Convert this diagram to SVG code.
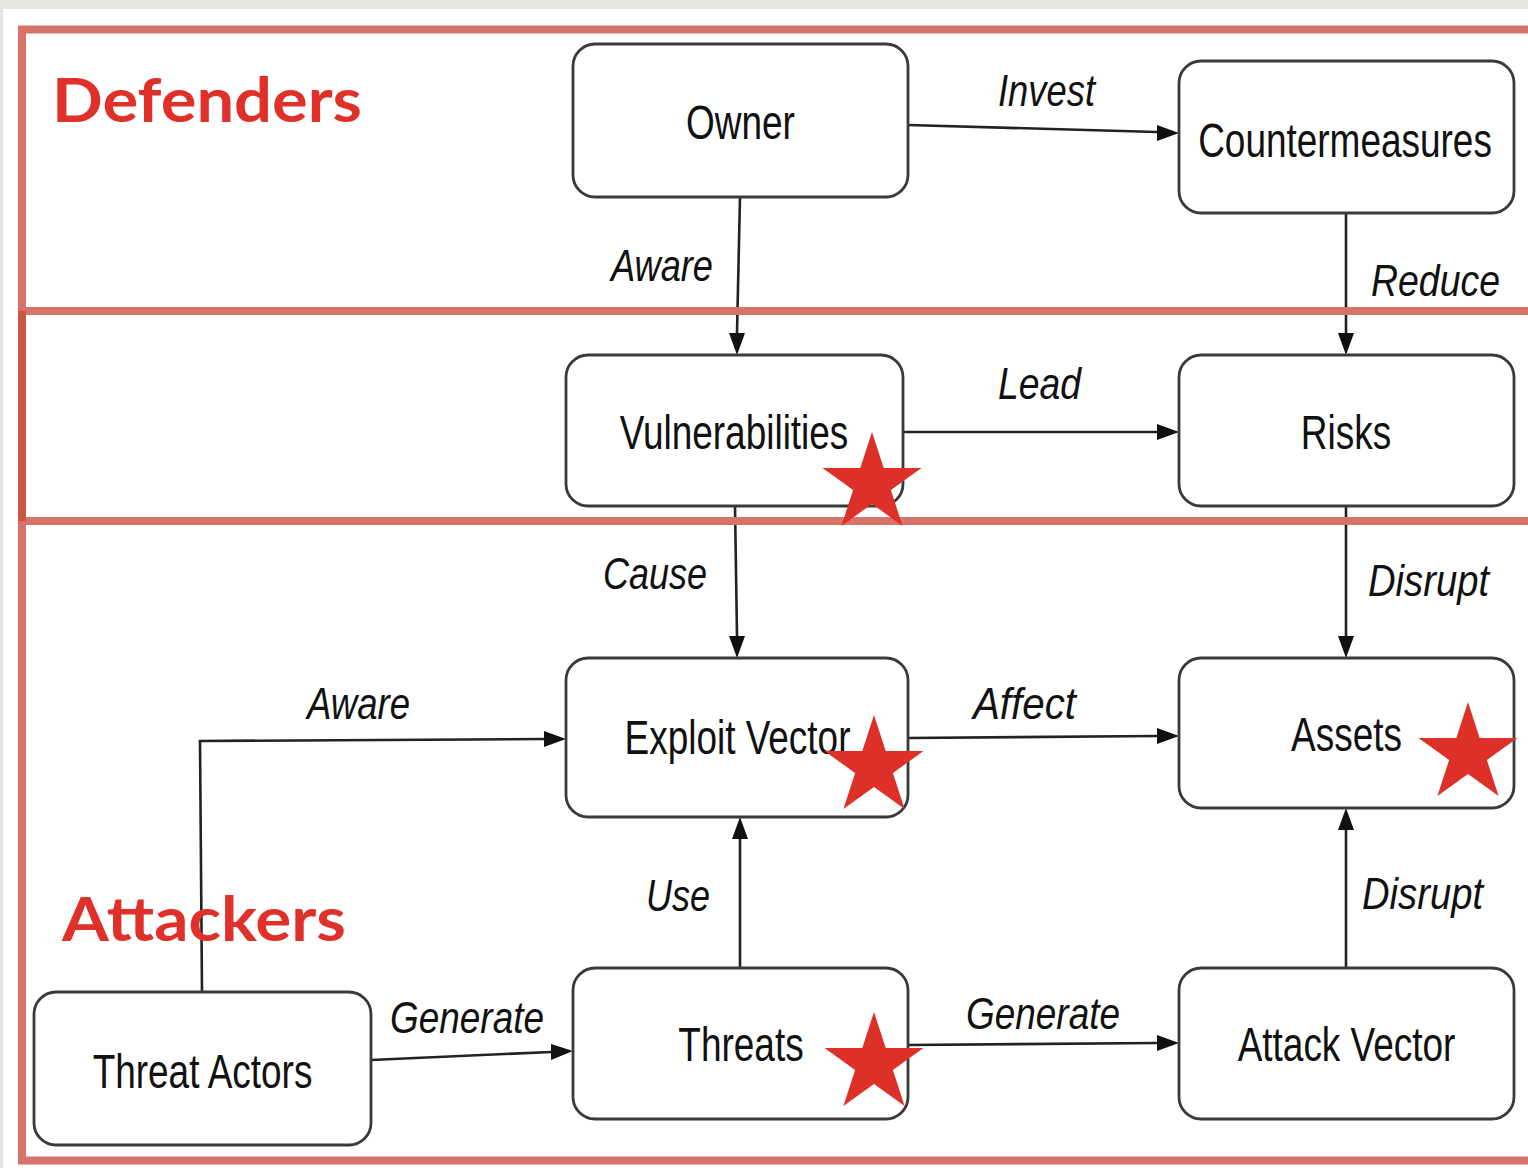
<svg xmlns="http://www.w3.org/2000/svg" width="1528" height="1168" viewBox="0 0 1528 1168">
<defs>
<style>
.node rect{fill:#fff;stroke:#3a3a3a;stroke-width:2.8}
.node text{font-family:"Liberation Sans",Arial,sans-serif;font-size:48px;fill:#111;text-anchor:middle}
.lbl{font-family:"Liberation Sans",Arial,sans-serif;font-size:44px;font-style:italic;fill:#111}
.conn{fill:none;stroke:#222;stroke-width:2.6}
.frame{fill:none;stroke:#d6736a;stroke-width:8}
.title{font-family:Lato,"Noto Sans",sans-serif;font-size:62px;font-weight:bold;fill:#e0302a}
.star{fill:#dd3028}
</style>
</defs>
<rect x="0" y="0" width="1528" height="1168" fill="#e6e5e2"/>
<rect x="3" y="9" width="1525" height="1159" fill="#ffffff"/>

<g id="connectors">
<line class="conn" x1="908" y1="125" x2="1157" y2="132"/>
<path d="M1157,125 L1179,133 L1157,141 z" fill="#111"/>
<line class="conn" x1="740" y1="197" x2="737" y2="333"/>
<path d="M729,333 L737,355 L745,333 z" fill="#111"/>
<line class="conn" x1="1346" y1="213" x2="1346" y2="333"/>
<path d="M1338,333 L1346,355 L1354,333 z" fill="#111"/>
<line class="conn" x1="903" y1="432" x2="1157" y2="432"/>
<path d="M1157,424 L1179,432 L1157,440 z" fill="#111"/>
<line class="conn" x1="735" y1="506" x2="737" y2="636"/>
<path d="M729,636 L737,658 L745,636 z" fill="#111"/>
<line class="conn" x1="1346" y1="506" x2="1346" y2="636"/>
<path d="M1338,636 L1346,658 L1354,636 z" fill="#111"/>
<polyline class="conn" points="202,992 200,741 544,739"/>
<path d="M544,731 L566,739 L544,747 z" fill="#111"/>
<line class="conn" x1="908" y1="738" x2="1157" y2="736"/>
<path d="M1157,728 L1179,736 L1157,744 z" fill="#111"/>
<line class="conn" x1="740" y1="968" x2="740" y2="839"/>
<path d="M732,839 L740,817 L748,839 z" fill="#111"/>
<line class="conn" x1="1346" y1="968" x2="1346" y2="830"/>
<path d="M1338,830 L1346,808 L1354,830 z" fill="#111"/>
<line class="conn" x1="371" y1="1060" x2="551" y2="1052"/>
<path d="M551,1044 L573,1051 L551,1060 z" fill="#111"/>
<line class="conn" x1="908" y1="1045" x2="1157" y2="1043"/>
<path d="M1157,1035 L1179,1043 L1157,1051 z" fill="#111"/>
</g>

<g id="node-owner" class="node"><rect x="573" y="44" width="335" height="153" rx="22"/><text transform="translate(740.5,139) scale(0.77,1)">Owner</text></g>
<g id="node-countermeasures" class="node"><rect x="1179" y="61" width="335" height="152" rx="22"/><text transform="translate(1345,157) scale(0.77,1)">Countermeasures</text></g>
<g id="node-vulnerabilities" class="node"><rect x="566" y="355" width="337" height="151" rx="22"/><text transform="translate(734,449) scale(0.77,1)">Vulnerabilities</text></g>
<g id="node-risks" class="node"><rect x="1179" y="355" width="335" height="151" rx="22"/><text transform="translate(1346,449) scale(0.77,1)">Risks</text></g>
<g id="node-exploit-vector" class="node"><rect x="566" y="658" width="342" height="159" rx="22"/><text transform="translate(737.5,754) scale(0.77,1)">Exploit Vector</text></g>
<g id="node-assets" class="node"><rect x="1179" y="658" width="335" height="150" rx="22"/><text transform="translate(1346.5,751) scale(0.77,1)">Assets</text></g>
<g id="node-threat-actors" class="node"><rect x="34" y="992" width="337" height="153" rx="22"/><text transform="translate(202.5,1088) scale(0.77,1)">Threat Actors</text></g>
<g id="node-threats" class="node"><rect x="573" y="968" width="335" height="151" rx="22"/><text transform="translate(741,1061) scale(0.77,1)">Threats</text></g>
<g id="node-attack-vector" class="node"><rect x="1179" y="968" width="335" height="151" rx="22"/><text transform="translate(1346.5,1061) scale(0.77,1)">Attack Vector</text></g>

<g id="edge-labels">
<text class="lbl" x="998" y="106" textLength="97" lengthAdjust="spacingAndGlyphs">Invest</text>
<text class="lbl" x="611" y="281" textLength="102" lengthAdjust="spacingAndGlyphs">Aware</text>
<text class="lbl" x="1371" y="296" textLength="129" lengthAdjust="spacingAndGlyphs">Reduce</text>
<text class="lbl" x="998" y="399" textLength="83" lengthAdjust="spacingAndGlyphs">Lead</text>
<text class="lbl" x="603" y="589" textLength="104" lengthAdjust="spacingAndGlyphs">Cause</text>
<text class="lbl" x="1368" y="596" textLength="121" lengthAdjust="spacingAndGlyphs">Disrupt</text>
<text class="lbl" x="307" y="719" textLength="103" lengthAdjust="spacingAndGlyphs">Aware</text>
<text class="lbl" x="973" y="719" textLength="103" lengthAdjust="spacingAndGlyphs">Affect</text>
<text class="lbl" x="646" y="911" textLength="64" lengthAdjust="spacingAndGlyphs">Use</text>
<text class="lbl" x="1362" y="909" textLength="121" lengthAdjust="spacingAndGlyphs">Disrupt</text>
<text class="lbl" x="390" y="1033" textLength="154" lengthAdjust="spacingAndGlyphs">Generate</text>
<text class="lbl" x="966" y="1029" textLength="154" lengthAdjust="spacingAndGlyphs">Generate</text>
</g>

<g id="frames">
<rect class="frame" x="22" y="29.5" width="1520" height="1131"/>
<line class="frame" x1="18" y1="311" x2="1528" y2="311"/>
<line class="frame" x1="18" y1="521" x2="1528" y2="521"/>
<line x1="22" y1="311" x2="22" y2="521" stroke="#cd5546" stroke-width="8"/>
</g>

<g id="titles">
<text class="title" x="52" y="122" textLength="310" lengthAdjust="spacingAndGlyphs">Defenders</text>
<text class="title" x="62" y="941" textLength="284" lengthAdjust="spacingAndGlyphs">Attackers</text>
</g>

<g id="stars">
<polygon class="star" transform="translate(872,484)" points="0,-52 11.7,-16.1 49.5,-16.1 18.9,6.1 30.6,42.1 0,19.9 -30.6,42.1 -18.9,6.1 -49.5,-16.1 -11.7,-16.1"/>
<polygon class="star" transform="translate(874,767)" points="0,-52 11.7,-16.1 49.5,-16.1 18.9,6.1 30.6,42.1 0,19.9 -30.6,42.1 -18.9,6.1 -49.5,-16.1 -11.7,-16.1"/>
<polygon class="star" transform="translate(1468,754)" points="0,-52 11.7,-16.1 49.5,-16.1 18.9,6.1 30.6,42.1 0,19.9 -30.6,42.1 -18.9,6.1 -49.5,-16.1 -11.7,-16.1"/>
<polygon class="star" transform="translate(874,1064)" points="0,-52 11.7,-16.1 49.5,-16.1 18.9,6.1 30.6,42.1 0,19.9 -30.6,42.1 -18.9,6.1 -49.5,-16.1 -11.7,-16.1"/>
</g>
</svg>
